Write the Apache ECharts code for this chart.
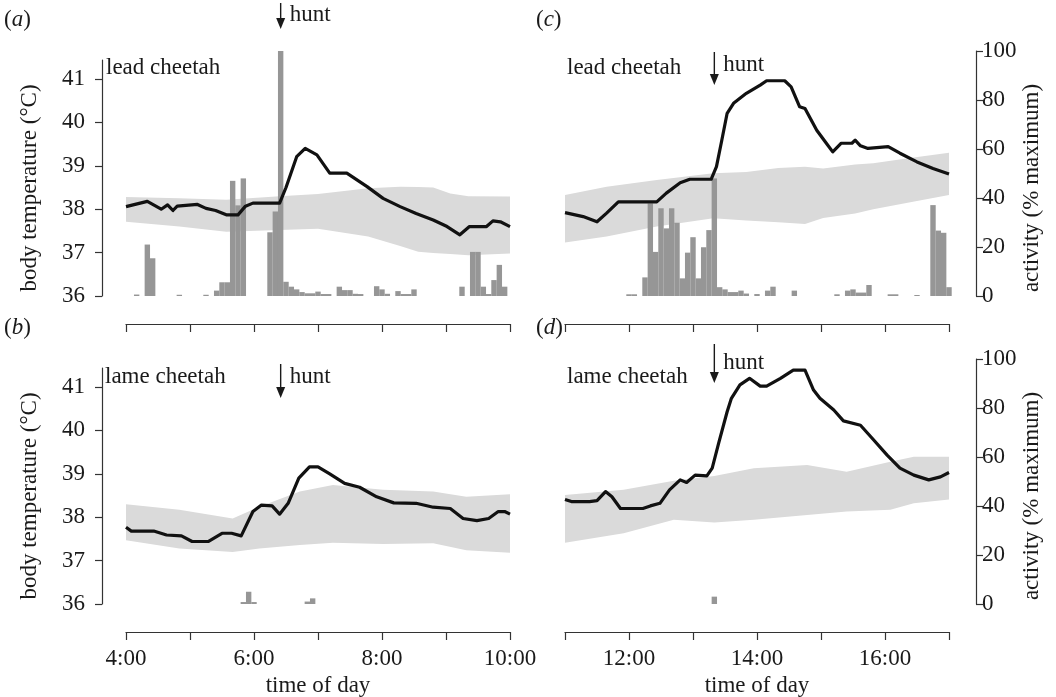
<!DOCTYPE html>
<html>
<head>
<meta charset="utf-8">
<title>cheetah body temperature and activity</title>
<script src="https://cdn.jsdelivr.net/npm/echarts@6.0.0/dist/echarts.min.js"></script>
<style>
    html, body { margin: 0; padding: 0; background: #fff; }
    #chart { width: 1056px; height: 697px; }
</style>
</head>
<body>
<div id="chart"></div>
<script>
// time values are minutes after midnight
var amRange = [240, 600];
var pmRange = [660, 1020];
var tempTicks = [36, 37, 38, 39, 40, 41];
var actTicks = [0, 20, 40, 60, 80, 100];

// (a) lead cheetah, morning
var leadAmTemp = [[240, 38.06], [260, 38.18], [273, 38.0], [279, 38.1], [284, 37.97], [288, 38.07], [307, 38.11], [315, 38.02],
    [324, 37.97], [334, 37.87], [345, 37.87], [352, 38.07], [359, 38.14], [384, 38.14], [390, 38.5], [400, 39.21],
    [408, 39.4], [419, 39.25], [431, 38.83], [447, 38.83], [466, 38.52], [481, 38.25], [497, 38.06], [512, 37.9],
    [528, 37.75], [541, 37.6], [553, 37.41], [562, 37.6], [578, 37.6], [584, 37.73], [591, 37.71], [600, 37.6]];
var leadAmBandTime = [240, 290, 334, 384, 420, 467, 497, 514, 528, 544, 561, 600];
var leadAmBandLow = [37.71, 37.6, 37.48, 37.52, 37.55, 37.37, 37.15, 37.02, 36.99, 36.97, 36.94, 36.98];
var leadAmBandHigh = [38.28, 38.25, 38.22, 38.30, 38.35, 38.48, 38.52, 38.51, 38.5, 38.36, 38.3, 38.29];
var leadAmAct = [[250, 0.6], [260, 21], [265, 15.4], [290, 0.5], [315, 0.5], [325, 2.2], [330, 5.6], [335, 5.6],
    [340, 47], [345, 37], [350, 48], [375, 26], [380, 34.5], [385, 100], [390, 5.8], [395, 3.8], [400, 2.7],
    [405, 1.6], [410, 1.1], [415, 1.1], [420, 1.8], [425, 0.8], [430, 0.8], [440, 3.8], [445, 2.4], [450, 2.4],
    [455, 0.9], [460, 0.8], [475, 4], [480, 2.7], [485, 0.9], [495, 2], [500, 0.8], [505, 0.8], [510, 2.7],
    [555, 3.8], [565, 18], [570, 18], [575, 3.8], [580, 0.8], [585, 6.5], [590, 12.7], [595, 3.8]];

// (b) lame cheetah, morning
var lameAmTemp = [[240, 37.77], [245, 37.68], [266, 37.68], [278, 37.59], [292, 37.57], [302, 37.44], [317, 37.44],
    [330, 37.63], [339, 37.63], [348, 37.57], [359, 38.13], [367, 38.28], [377, 38.26], [384, 38.07], [392, 38.32],
    [402, 38.9], [412, 39.16], [420, 39.16], [431, 39.0], [445, 38.78], [459, 38.69], [475, 38.47], [491, 38.33],
    [512, 38.32], [528, 38.23], [544, 38.2], [556, 37.97], [569, 37.92], [580, 37.97], [589, 38.13], [595, 38.13],
    [600, 38.07]];
var lameAmBandTime = [240, 290, 340, 365, 403, 434, 481, 528, 559, 600];
var lameAmBandLow = [37.47, 37.28, 37.2, 37.28, 37.36, 37.41, 37.38, 37.4, 37.24, 37.18];
var lameAmBandHigh = [38.3, 38.17, 37.97, 38.24, 38.59, 38.74, 38.63, 38.59, 38.47, 38.53];
var lameAmAct = [[350, 0.8], [355, 5], [360, 0.8], [410, 1], [415, 2.3]];

// (c) lead cheetah, afternoon
var leadPmTemp = [[660, 37.92], [677, 37.83], [690, 37.71], [699, 37.91], [710, 38.17], [746, 38.17], [755, 38.37],
    [768, 38.61], [777, 38.69], [797, 38.69], [802, 38.98], [807, 39.59], [812, 40.21], [818, 40.44], [830, 40.67],
    [843, 40.86], [849, 40.96], [866, 40.96], [872, 40.82], [880, 40.36], [885, 40.32], [896, 39.82], [905, 39.52],
    [911, 39.32], [919, 39.52], [929, 39.52], [932, 39.59], [937, 39.46], [944, 39.4], [963, 39.44], [974, 39.29],
    [990, 39.09], [1005, 38.94], [1020, 38.81]];
var leadPmBandTime = [660, 699, 746, 799, 830, 860, 885, 902, 932, 949, 980, 1020];
var leadPmBandLow = [37.23, 37.37, 37.6, 37.79, 37.74, 37.7, 37.66, 37.8, 37.9, 38.0, 38.14, 38.33];
var leadPmBandHigh = [38.33, 38.52, 38.67, 38.83, 38.86, 38.95, 38.98, 38.94, 39.03, 39.06, 39.17, 39.3];
var leadPmAct = [[720, 0.7], [725, 0.7], [735, 7.6], [740, 37.8], [745, 18], [750, 35.8], [755, 27.6], [760, 35.8],
    [765, 29.9], [770, 7.2], [775, 17.7], [780, 24], [785, 7.2], [790, 19.9], [795, 26.9], [800, 48], [805, 3.6],
    [810, 2.7], [815, 1.6], [820, 1.6], [825, 2.2], [830, 1], [840, 0.8], [850, 2.2], [855, 3.8], [875, 2.2],
    [915, 0.7], [925, 2.2], [930, 2.7], [935, 1.4], [940, 1.4], [945, 4.5], [965, 0.7], [970, 0.7], [990, 0.4],
    [1005, 37.1], [1010, 26.7], [1015, 25.8], [1020, 3.6]];

// (d) lame cheetah, afternoon
var lamePmTemp = [[660, 38.41], [666, 38.36], [683, 38.36], [690, 38.38], [698, 38.59], [704, 38.47], [712, 38.2],
    [733, 38.2], [740, 38.26], [749, 38.32], [758, 38.63], [768, 38.86], [774, 38.8], [782, 38.97], [793, 38.95],
    [798, 39.13], [804, 39.7], [812, 40.43], [816, 40.74], [824, 41.05], [833, 41.2], [843, 41.02], [849, 41.02],
    [862, 41.2], [874, 41.39], [885, 41.39], [893, 40.93], [899, 40.74], [912, 40.47], [921, 40.22], [937, 40.12],
    [949, 39.79], [962, 39.43], [974, 39.13], [987, 38.97], [1001, 38.86], [1012, 38.93], [1020, 39.03]];
var lamePmBandTime = [660, 715, 762, 800, 837, 887, 924, 965, 987, 1020];
var lamePmBandLow = [37.41, 37.63, 37.94, 37.88, 37.94, 38.05, 38.13, 38.17, 38.32, 38.41];
var lamePmBandHigh = [38.51, 38.63, 38.84, 38.95, 39.13, 39.2, 39.05, 39.28, 39.39, 39.39];
var lamePmAct = [[800, 3]];

var huntTimes = [385, 385, 800, 800];

var FONT = 'Liberation Serif';
var INK = '#1a1a1a';

var panels = [
    {letter: 'a', who: 'lead cheetah', col: 0, row: 0, temp: leadAmTemp, bandTime: leadAmBandTime, bandLow: leadAmBandLow, bandHigh: leadAmBandHigh, act: leadAmAct},
    {letter: 'b', who: 'lame cheetah', col: 0, row: 1, temp: lameAmTemp, bandTime: lameAmBandTime, bandLow: lameAmBandLow, bandHigh: lameAmBandHigh, act: lameAmAct},
    {letter: 'c', who: 'lead cheetah', col: 1, row: 0, temp: leadPmTemp, bandTime: leadPmBandTime, bandLow: leadPmBandLow, bandHigh: leadPmBandHigh, act: leadPmAct},
    {letter: 'd', who: 'lame cheetah', col: 1, row: 1, temp: lamePmTemp, bandTime: lamePmBandTime, bandLow: lamePmBandLow, bandHigh: lamePmBandHigh, act: lamePmAct}
];

// plot frame of each column / row
var colLeft = [126, 565];
var plotWidth = 384;
var rowBase = [296, 604];
var tempHeight = 236, tempMax = 36 + 236 / 43.4;
var actHeight = 245;

var chart = echarts.init(document.getElementById('chart'));
chart.setOption(buildOption());
chart.setOption({graphic: buildGraphic()});

/**
 * range band as one polygon: high edge forward, low edge back
 */
function bandRenderer(p) {
    return function (params, api) {
        if (params.dataIndex !== 0) {
            return null;
        }
        var pts = [];
        var k;
        for (k = 0; k < p.bandTime.length; k++) {
            pts.push(api.coord([p.bandTime[k], p.bandHigh[k]]));
        }
        for (k = p.bandTime.length - 1; k >= 0; k--) {
            pts.push(api.coord([p.bandTime[k], p.bandLow[k]]));
        }
        return {
            type: 'polygon',
            shape: {points: pts},
            style: {fill: '#dadada'}
        };
    };
}

/**
 * options: every panel has a temperature grid and an activity grid on top of each other
 */
function buildOption() {
    var grid = [], xAxis = [], yAxis = [], series = [];

    panels.forEach(function (p, i) {
        var range = p.col === 0 ? amRange : pmRange;
        var left = colLeft[p.col];
        var right = 1056 - left - plotWidth;
        var base = rowBase[p.row];
        var isBottom = p.row === 1;

        grid.push({left: left, right: right, top: base - tempHeight, bottom: 697 - base, outerBoundsMode: 'none'});
        grid.push({left: left, right: right, top: base - actHeight, bottom: 697 - base, outerBoundsMode: 'none'});

        xAxis.push({
            gridIndex: 2 * i, type: 'value', min: range[0], max: range[1], interval: 60,
            position: 'bottom', offset: 28,
            axisLine: {show: true, onZero: false, lineStyle: {color: '#333', width: 1.2}},
            axisTick: {show: true, length: 8, lineStyle: {color: '#333', width: 1.2}},
            axisLabel: {
                show: isBottom, margin: 15, color: INK, fontFamily: FONT, fontSize: 23,
                formatter: function (v) {
                    var h = v / 60;
                    return h % 2 === 0 ? h + ':00' : '';
                }
            },
            splitLine: {show: false},
            name: isBottom ? 'time of day' : '', nameLocation: 'middle', nameGap: 42,
            nameTextStyle: {color: INK, fontFamily: FONT, fontSize: 23}
        });
        xAxis.push({gridIndex: 2 * i + 1, type: 'value', min: range[0], max: range[1], show: false});

        yAxis.push({
            gridIndex: 2 * i, type: 'value', min: 36, max: tempMax,
            show: p.col === 0, position: 'left', offset: 24,
            axisLine: {show: true, lineStyle: {color: '#333', width: 1.2}},
            axisTick: {show: true, length: 7, customValues: tempTicks, lineStyle: {color: '#333', width: 1.2}},
            axisLabel: {margin: 17, customValues: tempTicks, color: INK, fontFamily: FONT, fontSize: 23},
            splitLine: {show: false}
        });
        yAxis.push({
            gridIndex: 2 * i + 1, type: 'value', min: 0, max: 100, interval: 20,
            show: p.col === 1, position: 'right', offset: 27,
            axisLine: {show: true, lineStyle: {color: '#333', width: 1.2}},
            axisTick: {show: true, length: 7, customValues: actTicks, lineStyle: {color: '#333', width: 1.2}},
            axisLabel: {margin: 6, customValues: actTicks, color: INK, fontFamily: FONT, fontSize: 23},
            splitLine: {show: false}
        });

        // range band
        series.push({
            type: 'custom', xAxisIndex: 2 * i, yAxisIndex: 2 * i, z: 1, silent: true,
            renderItem: bandRenderer(p),
            data: p.bandTime.map(function (t, k) { return [t, p.bandLow[k], p.bandHigh[k]]; })
        });

        // activity
        series.push({
            type: 'bar', xAxisIndex: 2 * i + 1, yAxisIndex: 2 * i + 1, z: 2,
            barWidth: 5.4, itemStyle: {color: '#969696'}, silent: true,
            data: p.act
        });

        // body temperature
        series.push({
            type: 'line', xAxisIndex: 2 * i, yAxisIndex: 2 * i, z: 3,
            symbol: 'none', silent: true,
            lineStyle: {color: '#111', width: 3.2, join: 'round'},
            data: p.temp
        });
    });

    return {
        animation: false,
        backgroundColor: '#fff',
        grid: grid,
        xAxis: xAxis,
        yAxis: yAxis,
        series: series
    };
}

/**
 * texts, axis titles and hunt arrows
 */
function buildGraphic() {
    var txt = {fill: INK, fontFamily: FONT, fontSize: 23};
    var out = [];
    var letterPos = [[4, 20], [4, 328], [536, 20], [536, 328]];
    var whoPos = [[106, 68], [105, 377], [567, 68], [567, 377]];
    var huntY = [[3, 29, 15], [364, 398, 377], [52, 85, 65], [344, 383, 363]];

    panels.forEach(function (p, i) {
        out.push({
            type: 'text', x: letterPos[i][0], y: letterPos[i][1],
            style: {
                text: '({it|' + p.letter + '})', fill: INK, fontFamily: FONT, fontSize: 23, verticalAlign: 'middle',
                rich: {it: {fontStyle: 'italic', fontFamily: FONT, fontSize: 23, fill: INK}}
            }
        });
        out.push({
            type: 'text', x: whoPos[i][0], y: whoPos[i][1],
            style: echarts.util.extend({text: p.who, verticalAlign: 'middle'}, txt)
        });

        var hx = chart.convertToPixel({xAxisIndex: 2 * i}, huntTimes[i]);
        var y = huntY[i];
        out.push({
            type: 'line', shape: {x1: hx, y1: y[0], x2: hx, y2: y[1] - 8},
            style: {stroke: INK, lineWidth: 1.4}
        });
        out.push({
            type: 'polygon', shape: {points: [[hx - 4.5, y[1] - 11], [hx + 4.5, y[1] - 11], [hx, y[1]]]},
            style: {fill: INK}
        });
        out.push({
            type: 'text', x: hx + 9, y: y[2],
            style: echarts.util.extend({text: 'hunt', verticalAlign: 'middle'}, txt)
        });
    });

    // y axis titles
    [188, 496].forEach(function (cy) {
        out.push({
            type: 'text', x: 30, y: cy, rotation: Math.PI / 2,
            style: echarts.util.extend({text: 'body temperature (°C)', align: 'center', verticalAlign: 'middle'}, txt)
        });
        out.push({
            type: 'text', x: 1032, y: cy, rotation: Math.PI / 2,
            style: echarts.util.extend({text: 'activity (% maximum)', align: 'center', verticalAlign: 'middle'}, txt)
        });
    });

    return out;
}
</script>
</body>
</html>
